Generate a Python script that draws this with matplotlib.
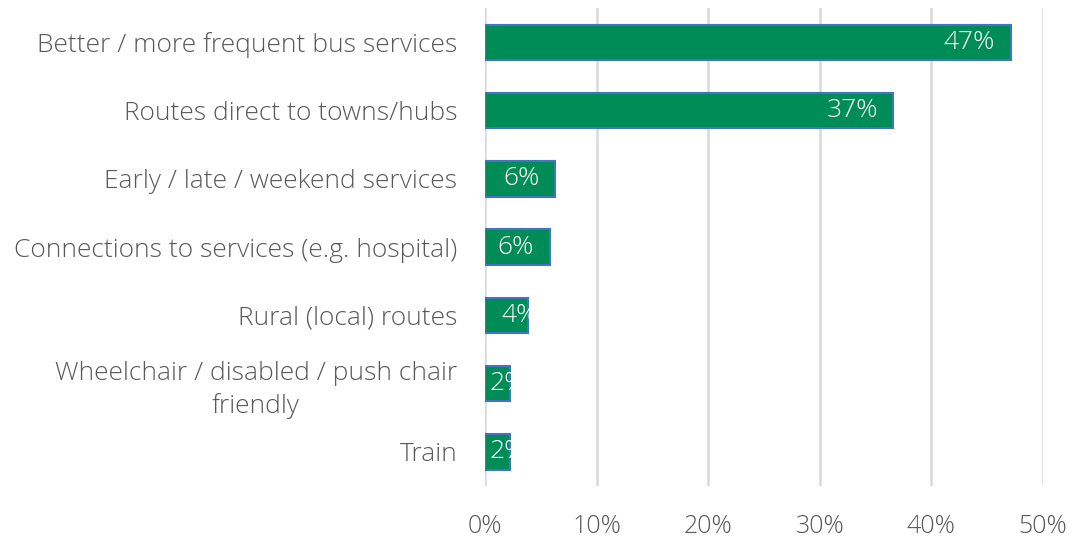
import matplotlib
matplotlib.use("Agg")
import matplotlib.pyplot as plt
from matplotlib.ticker import FuncFormatter

# data
categories = [
    "Better / more frequent bus services",
    "Routes direct to towns/hubs",
    "Early / late / weekend services",
    "Connections to services (e.g. hospital)",
    "Rural (local) routes",
    "Wheelchair / disabled / push chair\nfriendly",
    "Train",
]
values = [47.1, 36.6, 6.3, 5.8, 3.9, 2.2, 2.2]
value_labels = ["47%", "37%", "6%", "6%", "4%", "2%", "2%"]
x_ticks = [0, 10, 20, 30, 40, 50]

TEXT_COLOR = "#595959"
BAR_COLOR = "#008C56"
EDGE_COLOR = "#4472C4"
GRID_COLOR = "#D9D9D9"

plt.rcParams["font.family"] = ["Open Sans", "DejaVu Sans"]

fig = plt.figure(figsize=(10.76, 5.43), dpi=100)
ax = fig.add_axes([0.4507, 0.105, 0.5186, 0.880])

ypos = list(range(len(categories)))
bars = ax.barh(ypos, values, height=0.52, color=BAR_COLOR,
               edgecolor=EDGE_COLOR, linewidth=1.5, zorder=3)

# white labels at the inner end, cut off at the bar edge
for bar, lab in zip(bars, value_labels):
    w = bar.get_width()
    yc = bar.get_y() + bar.get_height() / 2
    if w > 5:
        t = ax.text(w - 1.4, yc, lab, ha="right", va="center",
                    color="white", fontsize=19, fontweight="light", zorder=4)
    else:
        # too short: text starts inside the bar and gets clipped
        t = ax.text(max(0.4, w - 2.4), yc, lab, ha="left", va="center",
                    color="white", fontsize=19, fontweight="light", zorder=4)
    t.set_clip_path(bar)

ax.set_xlim(0, 50)
ax.set_ylim(len(categories) - 0.5, -0.5)
ax.set_xticks(x_ticks)
ax.xaxis.set_major_formatter(FuncFormatter(lambda v, p: f"{v:.0f}%"))
ax.set_yticks(ypos)
ax.set_yticklabels(categories, fontsize=19, fontweight="light",
                   color=TEXT_COLOR, linespacing=1.35,
                   multialignment="center")

ax.grid(axis="x", color=GRID_COLOR, linewidth=1.8, zorder=0)
for s in ax.spines.values():
    s.set_visible(False)
ax.tick_params(axis="y", length=0, pad=20)
ax.tick_params(axis="x", length=0, pad=20, labelsize=18,
               labelcolor=TEXT_COLOR)
for lbl in ax.get_xticklabels():
    lbl.set_fontweight("light")

fig.savefig("out.png", dpi=100)
